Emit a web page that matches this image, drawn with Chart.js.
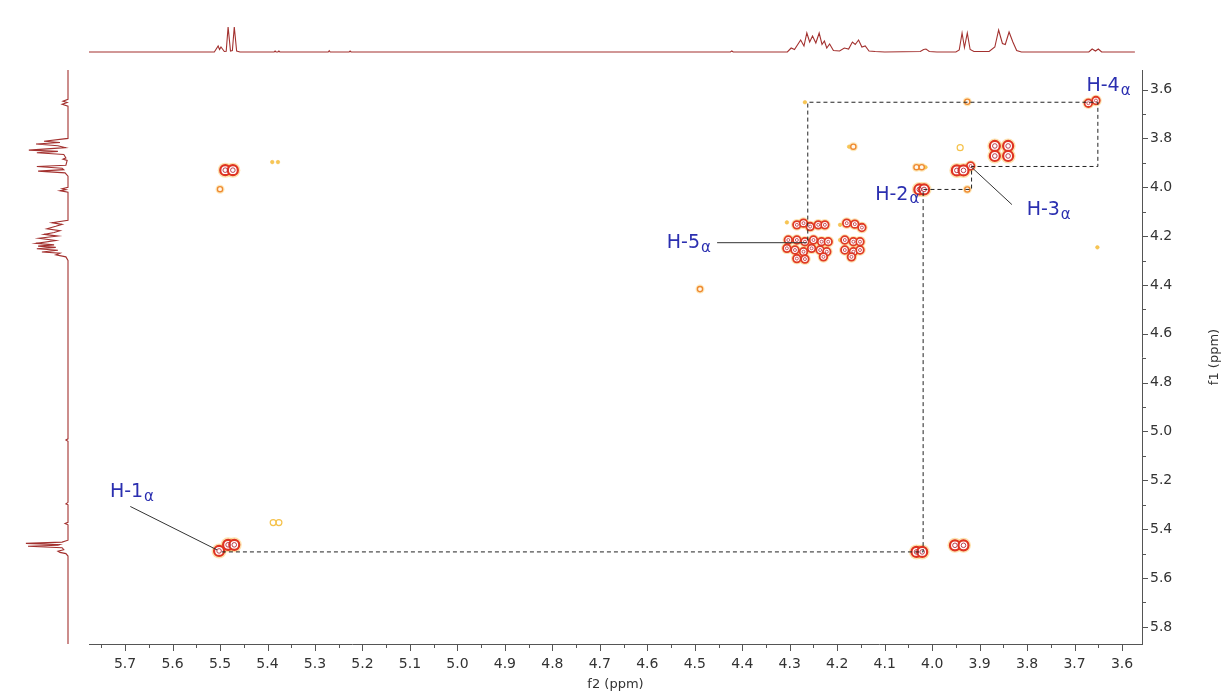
<!DOCTYPE html>
<html>
<head>
<meta charset="utf-8">
<title>COSY</title>
<script src="https://cdn.jsdelivr.net/npm/chart.js@4.4.1/dist/chart.umd.min.js"></script>
<style>
  html, body { margin: 0; padding: 0; background: #fff; }
  #wrap { position: relative; width: 1227px; height: 693px; overflow: hidden; }
  #wrap canvas { position: absolute; left: 0; top: 0; }
</style>
</head>
<body>
<div id="wrap">
  <canvas id="topTrace" width="1227" height="70"></canvas>
  <canvas id="leftTrace" width="89" height="693"></canvas>
  <canvas id="cosy" width="1227" height="693"></canvas>
</div>
<script>
// axis ranges (ppm)
const f2Min = 3.558, f2Max = 5.776;
const f1Min = 3.52, f1Max = 5.87;

// 1D projection along f2 (top), relative intensity
const topPpm = [5.776, 5.512, 5.504, 5.501, 5.498, 5.491, 5.487, 5.483, 5.478, 5.474, 5.470, 5.465, 5.458, 5.386, 5.384, 5.382, 5.378, 5.376, 5.374, 5.272, 5.270, 5.268, 5.228, 5.226, 5.224, 4.425, 4.422, 4.419, 4.305, 4.297, 4.290, 4.277, 4.270, 4.264, 4.258, 4.252, 4.245, 4.238, 4.232, 4.227, 4.222, 4.216, 4.208, 4.195, 4.185, 4.176, 4.168, 4.162, 4.155, 4.148, 4.141, 4.133, 4.120, 4.100, 4.025, 4.018, 4.013, 4.006, 3.990, 3.950, 3.943, 3.937, 3.932, 3.926, 3.920, 3.912, 3.880, 3.868, 3.860, 3.852, 3.846, 3.838, 3.830, 3.822, 3.812, 3.670, 3.663, 3.656, 3.650, 3.643, 3.573];
const topInt = [0, 0, 24, 10, 20, 2, 3, 100, 4, 6, 100, 4, 0, 0, 4, 0, 0, 4, 0, 0, 5, 0, 0, 4, 0, 0, 4, 0, 0, 16, 10, 48, 24, 76, 40, 64, 36, 76, 30, 44, 16, 32, 6, 4, 16, 12, 40, 30, 48, 20, 24, 4, 2, 0, 2, 10, 12, 2, 0, 0, 8, 76, 18, 76, 10, 2, 2, 20, 88, 34, 30, 80, 40, 6, 0, 0, 12, 4, 12, 0, 0];

// 1D projection along f1 (left), relative intensity
const leftPpm = [3.520, 3.640, 3.648, 3.653, 3.660, 3.668, 3.800, 3.812, 3.817, 3.823, 3.830, 3.838, 3.848, 3.853, 3.859, 3.866, 3.880, 3.885, 3.890, 3.910, 3.915, 3.922, 3.928, 3.934, 3.941, 3.955, 4.000, 4.006, 4.010, 4.014, 4.020, 4.135, 4.145, 4.152, 4.160, 4.170, 4.178, 4.185, 4.193, 4.200, 4.209, 4.218, 4.230, 4.236, 4.241, 4.246, 4.252, 4.258, 4.265, 4.270, 4.277, 4.285, 4.300, 5.030, 5.035, 5.040, 5.290, 5.296, 5.300, 5.372, 5.377, 5.382, 5.445, 5.453, 5.458, 5.463, 5.466, 5.470, 5.476, 5.484, 5.490, 5.495, 5.500, 5.510, 5.870];
const leftInt = [0, 0, 12, 2, 14, 0, 0, 57, 19, 76, 24, 6, 93, 24, 74, 10, 5, 12, 2, 5, 74, 14, 10, 71, 7, 0, 0, 14, 5, 19, 0, 0, 38, 14, 29, 50, 19, 33, 57, 24, 69, 29, 76, 33, 71, 29, 74, 24, 62, 19, 29, 5, 0, 0, 5, 0, 0, 5, 0, 0, 7, 0, 0, 14, 100, 19, 24, 95, 14, 10, 24, 19, 5, 0, 0];

// 2D cross peaks (f2, f1), grouped by contour strength
const bigF2 = [5.502, 5.483, 5.470, 5.489, 5.473, 4.033, 4.021, 3.952, 3.934, 4.027, 4.017, 3.948, 3.934, 3.868, 3.868, 3.840, 3.840];
const bigF1 = [5.489, 5.464, 5.464, 3.930, 3.930, 5.493, 5.493, 5.466, 5.466, 4.009, 4.009, 3.931, 3.931, 3.831, 3.872, 3.831, 3.872];

const smallF2 = [3.919, 3.671, 3.655,
  4.285, 4.271, 4.257, 4.240, 4.226,
  4.303, 4.285, 4.268, 4.250, 4.233, 4.219,
  4.306, 4.289, 4.271, 4.254, 4.236, 4.222,
  4.285, 4.268, 4.229,
  4.180, 4.163, 4.148,
  4.184, 4.166, 4.152, 4.184, 4.166, 4.152, 4.170];
const smallF1 = [3.913, 3.656, 3.645,
  4.154, 4.147, 4.161, 4.154, 4.154,
  4.216, 4.216, 4.223, 4.216, 4.223, 4.223,
  4.250, 4.257, 4.264, 4.250, 4.257, 4.264,
  4.292, 4.294, 4.285,
  4.147, 4.151, 4.165,
  4.216, 4.223, 4.223, 4.257, 4.264, 4.257, 4.285];

const weakF2 = [5.500, 3.926, 4.166, 4.033, 4.022, 3.926, 4.489];
const weakF1 = [4.008, 3.650, 3.834, 3.918, 3.918, 4.009, 4.417];

const faintF2 = [4.268, 4.175, 4.014, 3.652, 5.390, 5.378, 4.306, 4.194, 4.194];
const faintF1 = [3.652, 3.834, 3.918, 4.246, 3.897, 3.897, 4.144, 4.154, 4.216];

const ringF2 = [3.941, 5.388, 5.376];
const ringF1 = [3.838, 5.373, 5.373];

// assignment path (dashed) and label leaders
const linkF2 = [5.496, 4.019, 4.019, 3.917, 3.917, 3.651, 3.651, 4.262, 4.262];
const linkF1 = [5.493, 5.493, 4.009, 4.009, 3.915, 3.915, 3.652, 3.652, 4.227];
const leaderF2 = [[5.689, 5.506], [4.453, 4.264], [3.917, 3.832]];
const leaderF1 = [[5.307, 5.485], [4.227, 4.227], [3.918, 4.071]];

const labelText = ['H-1', 'H-2', 'H-3', 'H-4', 'H-5'];
const labelF2 = [5.732, 4.120, 3.801, 3.675, 4.559];
const labelF1 = [5.249, 4.030, 4.092, 3.584, 4.230];

const traceColor = '#a3312f';
const axisColor = '#555';
const textColor = '#333';
const labelColor = '#2b2fb0';
const FONT = 'DejaVu Sans';

const pts = (xs, ys) => xs.map((x, i) => ({ x, y: ys[i] }));
const noUi = { legend: { display: false }, tooltip: { enabled: false } };

// top projection
new Chart(document.getElementById('topTrace'), {
  type: 'scatter',
  data: { datasets: [{ data: pts(topPpm, topInt), showLine: true, borderColor: traceColor, borderWidth: 1.1, pointRadius: 0, tension: 0, clip: false }] },
  options: {
    responsive: false, animation: false, events: [],
    layout: { padding: { left: 89, right: 85, top: 20, bottom: 18 } },
    plugins: noUi,
    scales: {
      x: { type: 'linear', display: false, reverse: true, min: f2Min, max: f2Max },
      y: { type: 'linear', display: false, min: 0, max: 128 }
    }
  }
});

// left projection
new Chart(document.getElementById('leftTrace'), {
  type: 'scatter',
  data: { datasets: [{ data: pts(leftInt, leftPpm), showLine: true, borderColor: traceColor, borderWidth: 1.1, pointRadius: 0, tension: 0, clip: false }] },
  options: {
    responsive: false, animation: false, events: [],
    layout: { padding: { left: 20, right: 21, top: 70, bottom: 49 } },
    plugins: noUi,
    scales: {
      x: { type: 'linear', display: false, reverse: true, min: 0, max: 114 },
      y: { type: 'linear', display: false, reverse: true, min: f1Min, max: f1Max }
    }
  }
});

function peakSet(xs, ys, r, fill, stroke, width, order) {
  return { data: pts(xs, ys), pointRadius: r, pointBackgroundColor: fill, pointBorderColor: stroke, pointBorderWidth: width, order };
}
function pathSet(xs, ys, color, dash) {
  return { data: pts(xs, ys), showLine: true, borderColor: color, borderWidth: 1, borderDash: dash, pointRadius: 0, tension: 0, order: 0 };
}

// minor ticks, f1 title, assignment labels
const cosyDecor = {
  id: 'cosyDecor',
  afterDraw(chart) {
    const { ctx, chartArea: a, scales: { x, y } } = chart;
    ctx.save();
    ctx.strokeStyle = axisColor;
    ctx.lineWidth = 1;
    ctx.beginPath();
    const xv = x.ticks.map(t => t.value);
    xv.forEach(v => {
      const px = Math.round(x.getPixelForValue(v)) + 0.5;
      ctx.moveTo(px, a.bottom); ctx.lineTo(px, a.bottom + 7);
    });
    xv.concat([xv[0] - 0.1]).forEach(v => {
      const m = v + 0.05;
      if (m < x.min || m > x.max) return;
      const px = Math.round(x.getPixelForValue(m)) + 0.5;
      ctx.moveTo(px, a.bottom); ctx.lineTo(px, a.bottom + 4);
    });
    const yv = y.ticks.map(t => t.value);
    yv.forEach(v => {
      const py = Math.round(y.getPixelForValue(v)) + 0.5;
      ctx.moveTo(a.right, py); ctx.lineTo(a.right + 6, py);
    });
    yv.concat([yv[0] - 0.2]).forEach(v => {
      const m = v + 0.1;
      if (m < y.min || m > y.max) return;
      const py = Math.round(y.getPixelForValue(m)) + 0.5;
      ctx.moveTo(a.right, py); ctx.lineTo(a.right + 4, py);
    });
    ctx.stroke();

    // f1 title, reads bottom to top
    ctx.fillStyle = textColor;
    ctx.font = `13px "${FONT}"`;
    ctx.textAlign = 'center';
    ctx.textBaseline = 'middle';
    ctx.translate(1215, (a.top + a.bottom) / 2);
    ctx.rotate(-Math.PI / 2);
    ctx.fillText('f1 (ppm)', 0, 0);
    ctx.setTransform(1, 0, 0, 1, 0, 0);

    ctx.fillStyle = labelColor;
    ctx.textAlign = 'left';
    labelText.forEach((t, i) => {
      const px = x.getPixelForValue(labelF2[i]);
      const py = y.getPixelForValue(labelF1[i]);
      ctx.font = `19px "${FONT}"`;
      ctx.fillText(t, px, py);
      const w = ctx.measureText(t).width;
      ctx.font = `15px "${FONT}"`;
      ctx.fillText('\u03b1', px + w + 1, py + 5);
    });
    ctx.restore();
  }
};

const haloFill = 'rgba(251,198,96,0.5)';
const none = 'rgba(0,0,0,0)';

new Chart(document.getElementById('cosy'), {
  type: 'scatter',
  data: {
    datasets: [
      peakSet(bigF2, bigF1, 7.5, haloFill, none, 0, 20),
      peakSet(smallF2, smallF1, 5.8, haloFill, none, 0, 20),
      peakSet(weakF2, weakF1, 4.5, 'rgba(252,214,130,0.55)', none, 0, 20),
      peakSet(bigF2, bigF1, 5, '#fff', '#df3322', 2.2, 10),
      peakSet(smallF2, smallF1, 3.8, '#fff', '#e03a26', 1.8, 10),
      peakSet(bigF2, bigF1, 2.3, none, '#b52a3a', 0.9, 9),
      peakSet(smallF2, smallF1, 1.5, none, '#c0303a', 0.8, 9),
      peakSet(weakF2, weakF1, 2.6, '#fff8ec', '#ef8a32', 1.4, 10),
      peakSet(faintF2, faintF1, 1.8, '#f7c753', '#f2b640', 0.5, 10),
      peakSet(ringF2, ringF1, 3, none, '#f5c24b', 1.2, 10),
      pathSet(linkF2, linkF1, '#222', [4, 3]),
      ...leaderF2.map((xs, i) => pathSet(xs, leaderF1[i], '#333', []))
    ]
  },
  options: {
    responsive: false, animation: false, events: [],
    layout: { padding: { left: 89, top: 70, right: 0, bottom: 0 } },
    plugins: noUi,
    scales: {
      x: {
        type: 'linear', reverse: true, min: f2Min, max: f2Max,
        afterFit: s => { s.height = 49; },
        border: { display: true, color: axisColor, width: 1 },
        grid: { display: false, drawTicks: false },
        ticks: { stepSize: 0.1, includeBounds: false, autoSkip: false, maxRotation: 0, padding: 12, color: textColor, font: { family: FONT, size: 14 }, callback: v => v.toFixed(1) },
        title: { display: true, text: 'f2 (ppm)', color: textColor, font: { family: FONT, size: 13 }, padding: { top: 0, bottom: 1 } }
      },
      y: {
        type: 'linear', position: 'right', reverse: true, min: f1Min, max: f1Max,
        afterFit: s => { s.width = 85; },
        border: { display: true, color: axisColor, width: 1 },
        grid: { display: false, drawTicks: false },
        ticks: { stepSize: 0.2, includeBounds: false, autoSkip: false, padding: 8, color: textColor, font: { family: FONT, size: 14 }, callback: v => v.toFixed(1) }
      }
    }
  },
  plugins: [cosyDecor]
});
</script>
</body>
</html>
